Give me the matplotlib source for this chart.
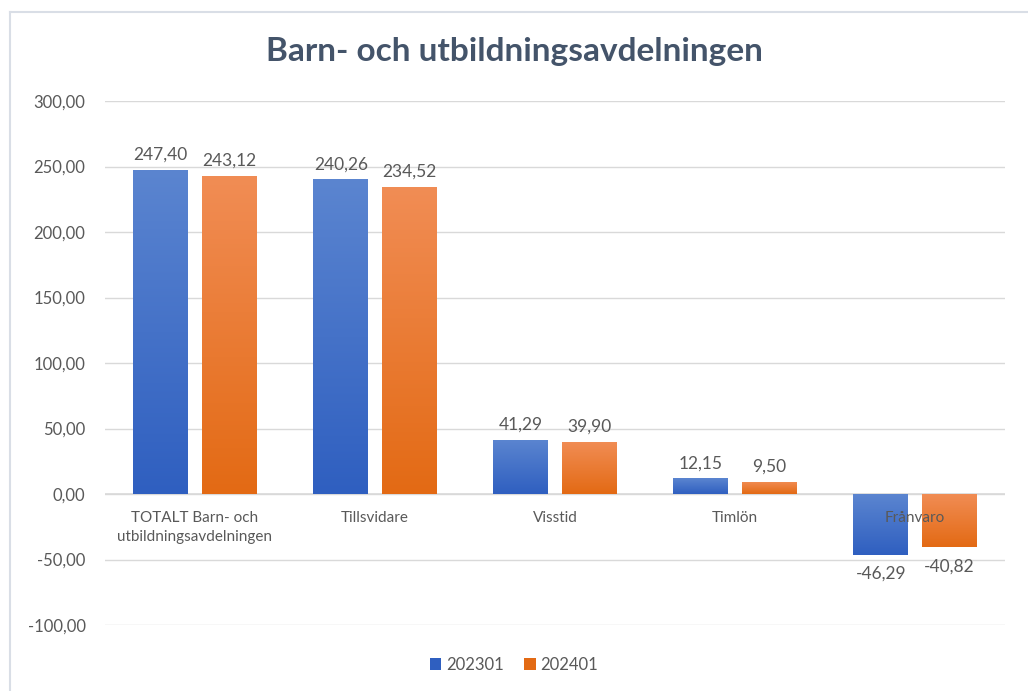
import numpy as np
import matplotlib.pyplot as plt
from matplotlib.colors import LinearSegmentedColormap
from matplotlib.lines import Line2D
from matplotlib.patches import Patch

# ---------------- DATA ----------------
categories = ["TOTALT Barn- och\nutbildningsavdelningen", "Tillsvidare", "Visstid", "Timlön", "Frånvaro"]
v2023 = [247.40, 240.26, 41.29, 12.15, -46.29]
v2024 = [243.12, 234.52, 39.90, 9.50, -40.82]
series = ["202301", "202401"]
yticks = [-100, -50, 0, 50, 100, 150, 200, 250, 300]

# ---------------- STYLE ----------------
plt.rcParams["font.family"] = ["Lato", "DejaVu Sans"]
TXT = "#595959"
BLUE = ("#5B85D0", "#2F5FC0")   # top, bottom
ORANGE = ("#F18D55", "#E36A14")


def fmt(v):
    return f"{v:.2f}".replace(".", ",")


fig = plt.figure(figsize=(10.28, 6.91), dpi=100)
ax = fig.add_axes([105 / 1028, 1 - 625 / 691, 900 / 1028, 524 / 691])

# chart border (top and left only visible)
fig.add_artist(Line2D([10 / 1028, 10 / 1028], [0, 1 - 12 / 691], color="#D9DEE6", lw=1.5))
fig.add_artist(Line2D([10 / 1028, 1], [1 - 12 / 691, 1 - 12 / 691], color="#D9DEE6", lw=1.5))

x = np.arange(len(categories))
w = 0.305
off = 0.19


def gradient_bars(xs, vals, cols):
    bars = ax.bar(xs, vals, width=w, color="none", edgecolor="none", zorder=3)
    cmap = LinearSegmentedColormap.from_list("g", [cols[1], cols[0]])
    grad = np.linspace(0, 1, 256).reshape(-1, 1)
    for b, v in zip(bars, vals):
        x0 = b.get_x()
        y0, y1 = (0, v) if v >= 0 else (v, 0)
        img = ax.imshow(grad, cmap=cmap, aspect="auto", origin="lower",
                        extent=[x0, x0 + b.get_width(), y0, y1], zorder=3)
        img.set_clip_path(b)
    return bars


b1 = gradient_bars(x - off, v2023, BLUE)
b2 = gradient_bars(x + off, v2024, ORANGE)

for xs, vals in ((x - off, v2023), (x + off, v2024)):
    for xi, v in zip(xs, vals):
        if v >= 0:
            ax.annotate(fmt(v), (xi, v), xytext=(0, 5), textcoords="offset points",
                        ha="center", va="bottom", fontsize=12.5, color=TXT)
        else:
            ax.annotate(fmt(v), (xi, v), xytext=(0, -8), textcoords="offset points",
                        ha="center", va="top", fontsize=12.5, color=TXT)

# category labels sit just under the zero line
for xi, c in zip(x, categories):
    ax.annotate(c, (xi, 0), xytext=(0, -12), textcoords="offset points",
                ha="center", va="top", fontsize=11, color=TXT, linespacing=1.5, zorder=4)

ax.set_xlim(-0.5, len(categories) - 0.5)
ax.set_ylim(-100, 300)
ax.set_yticks(yticks)
ax.set_yticklabels([fmt(t) for t in yticks])
ax.set_xticks([])
ax.tick_params(axis="y", length=0, pad=14, labelsize=12, labelcolor=TXT)
ax.grid(axis="y", color="#D9D9D9", lw=1, zorder=0)
ax.axhline(0, color="#D9D9D9", lw=1.2, zorder=2)
for s in ax.spines.values():
    s.set_visible(False)
ax.set_facecolor("none")

fig.text(0.5, 1 - 52 / 691, "Barn- och utbildningsavdelningen", ha="center", va="center",
         fontsize=24, fontweight="bold", color="#44546A")

handles = [Patch(facecolor=BLUE[1]), Patch(facecolor=ORANGE[1])]
fig.legend(handles, series, loc="center", bbox_to_anchor=(0.5, 1 - 665 / 691), ncol=2,
           frameon=False, fontsize=12, handlelength=0.7, handleheight=0.7,
           handletextpad=0.3, columnspacing=1.2, labelcolor=TXT)

fig.savefig("out.png", dpi=100)
